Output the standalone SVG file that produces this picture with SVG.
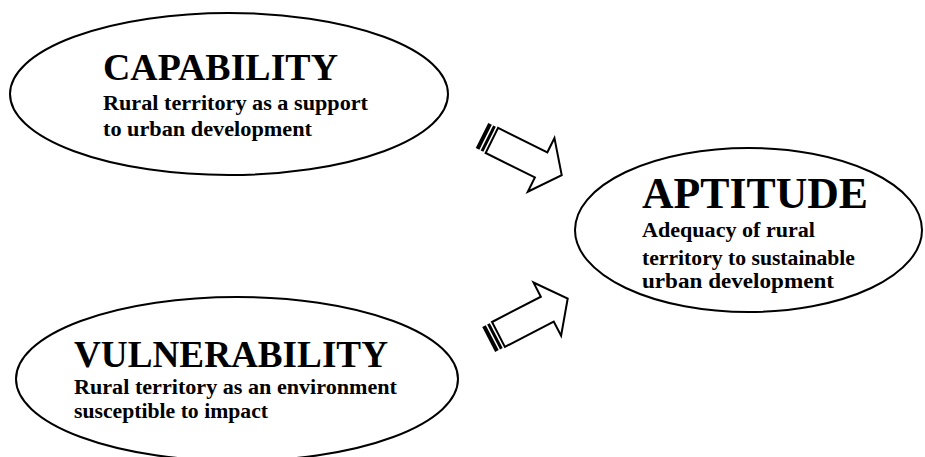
<svg xmlns="http://www.w3.org/2000/svg" xmlns:xlink="http://www.w3.org/1999/xlink" width="925" height="457" viewBox="0 0 925 457">
<style>
.node ellipse { fill: #ffffff; stroke: #000000; stroke-width: 2; }
.title { font-family: "Liberation Serif", "Times New Roman", serif; font-weight: bold; fill: #000000; }
.sub { font-family: "Liberation Serif", "Times New Roman", serif; font-weight: bold; font-size: 20px; fill: #000000; }
.arrow-body { fill: #ffffff; stroke: #000000; stroke-width: 2; stroke-linejoin: miter; }
.stripe { fill: #000000; }
</style>
<defs>
<g id="striped-arrow">
<rect class="stripe" x="0" y="-14" width="4" height="28"/>
<rect class="stripe" x="5.5" y="-14" width="3" height="28"/>
<path class="arrow-body" d="M11,-14 L66,-14 L66,-30 L89,0 L66,30 L66,14 L11,14 Z"/>
</g>
</defs>
<rect x="0" y="0" width="925" height="457" fill="#ffffff"/>
<g id="connectors">
<use xlink:href="#striped-arrow" transform="translate(482,135.5) rotate(26.4)"/>
<use xlink:href="#striped-arrow" transform="translate(488.7,339.5) rotate(-27.4)"/>
</g>
<g id="capability" class="node">
<ellipse cx="229" cy="94" rx="219" ry="81"/>
<text class="title" x="103" y="80" font-size="37.5" textLength="235" lengthAdjust="spacingAndGlyphs">CAPABILITY</text>
<text class="sub" x="103" y="110" textLength="265" lengthAdjust="spacingAndGlyphs">Rural territory as a support</text>
<text class="sub" x="103" y="136" textLength="209" lengthAdjust="spacingAndGlyphs">to urban development</text>
</g>
<g id="aptitude" class="node">
<ellipse cx="748.5" cy="230" rx="173.5" ry="82"/>
<text class="title" x="642" y="208" font-size="44" textLength="226" lengthAdjust="spacingAndGlyphs">APTITUDE</text>
<text class="sub" x="642" y="237" textLength="173" lengthAdjust="spacingAndGlyphs">Adequacy of rural</text>
<text class="sub" x="642" y="265" textLength="213" lengthAdjust="spacingAndGlyphs">territory to sustainable</text>
<text class="sub" x="642" y="288" textLength="192" lengthAdjust="spacingAndGlyphs">urban development</text>
</g>
<g id="vulnerability" class="node">
<ellipse cx="237" cy="379" rx="221" ry="82"/>
<text class="title" x="74" y="367" font-size="37.5" textLength="314" lengthAdjust="spacingAndGlyphs">VULNERABILITY</text>
<text class="sub" x="74" y="394" textLength="323" lengthAdjust="spacingAndGlyphs">Rural territory as an environment</text>
<text class="sub" x="74" y="418" textLength="194" lengthAdjust="spacingAndGlyphs">susceptible to impact</text>
</g>
</svg>
